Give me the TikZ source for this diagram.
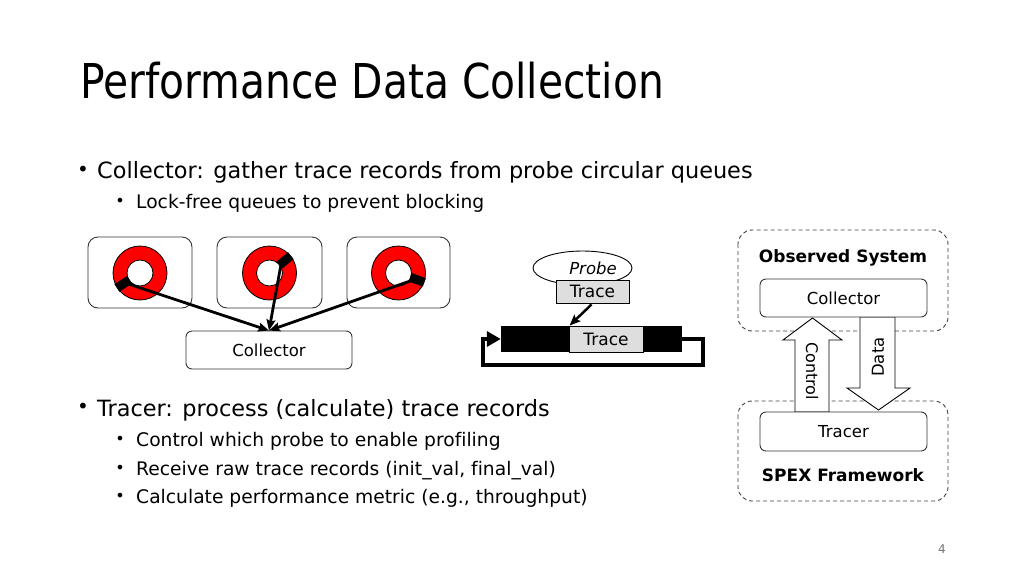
\documentclass[tikz,border=0pt]{standalone}
\usepackage{fontspec}
\setmainfont{DejaVu Sans}[Ligatures=NoCommon]
\newfontfamily\titlefont{DejaVu Sans}[FakeStretch=0.85]
\usetikzlibrary{arrows.meta,shapes.geometric,calc}
\newcommand\myfs[1]{\fontsize{#1}{#1}\selectfont}
\definecolor{tracegray}{RGB}{222,222,222}
\begin{document}
\begin{tikzpicture}[x=1pt,y=-1pt,
  txt/.style={inner sep=0pt, anchor=base west},
  ctr/.style={inner sep=0pt, anchor=center},
  rbox/.style={draw=black!80, line width=0.9pt, rounded corners=10pt, minimum height=71pt, inner sep=0pt},
  pbox/.style={draw=black!80, line width=0.9pt, rounded corners=6pt, inner sep=0pt, font=\myfs{16.5}},
  tbox/.style={draw=black, line width=0.9pt, fill=tracegray, inner sep=0pt, font=\myfs{17}},
  dbox/.style={draw=black!75, line width=0.9pt, dash pattern=on 4pt off 3pt, rounded corners=14pt},
  arr/.style={line width=2.8pt, -{Stealth[length=11pt,width=9pt,inset=2pt]}},
  blk/.style={draw=black, line width=0.9pt, fill=white, line join=miter},
  ring/.style={fill=red, draw=black, line width=0.8pt},
  hole/.style={fill=white, draw=black, line width=0.8pt},
  seg/.style={line width=9pt, black}
]
\useasboundingbox (0,0) rectangle (1024,576);

% title and bullets
\node[txt] (title) at (80,98) {\titlefont\myfs{48}Performance Data Collection};
\node[ctr] (d1) at (83,171) {\myfs{20}•};
\node[txt] (b1) at (97,178) {\myfs{22.4}Collector: gather trace records from probe circular queues};
\node[ctr] (d11) at (120,202) {\myfs{16}•};
\node[txt] (b11) at (136,208) {\myfs{18.7}Lock-free queues to prevent blocking};
\node[ctr] (d2) at (83,408) {\myfs{20}•};
\node[txt] (b2) at (97,416) {\myfs{22.4}Tracer: process (calculate) trace records};
\node[ctr] (d21) at (120,440) {\myfs{16}•};
\node[txt] (b21) at (136,446) {\myfs{18.7}Control which probe to enable profiling};
\node[ctr] (d22) at (120,469) {\myfs{16}•};
\node[txt] (b22) at (136,475) {\myfs{18.7}Receive raw trace records (init\_val, final\_val)};
\node[ctr] (d23) at (120,497) {\myfs{16}•};
\node[txt] (b23) at (136,503) {\myfs{18.7}Calculate performance metric (e.g., throughput)};
\node[ctr, text=black!55] (pg) at (942,549) {\myfs{12}4};

% queues
\node[rbox, minimum width=104pt] (q1) at (140,272.5) {};
\node[rbox, minimum width=105pt] (q2) at (269.5,272.5) {};
\node[rbox, minimum width=103pt] (q3) at (398.5,272.5) {};
\coordinate (c1) at (140,273);
\coordinate (c2) at (269.5,273);
\coordinate (c3) at (398.5,273);
\foreach \c/\a in {c1/147, c2/-39, c3/20}{
  \draw[ring] (\c) circle[radius=27];
  \draw[hole] (\c) circle[radius=13];
  \draw[seg] ($(\c)+(\a:12.5)$) -- ($(\c)+(\a:27.5)$);
}
\coordinate (s1) at ($(c1)+(147:18)$);
\coordinate (s2) at ($(c2)+(-39:15)$);
\coordinate (s3) at ($(c3)+(20:18)$);
\node[pbox, minimum width=166pt, minimum height=38pt] (coll) at (269,350) {Collector};
\draw[arr] (s1) -- (coll.north);
\draw[arr] (s2) -- (coll.north);
\draw[arr] (s3) -- (coll.north);

% probe / trace buffer
\node[ellipse, draw=black, line width=0.9pt, minimum width=99pt, minimum height=34pt, inner sep=0pt] (probe) at (582.5,268) {};
\node[ctr] (probetxt) at (593,268) {\myfs{16.5}\itshape Probe};
\node[tbox, minimum width=73pt, minimum height=23pt] (tr1) at (592.5,291.5) {Trace};
\node[fill=black, minimum width=181pt, minimum height=26pt, inner sep=0pt] (bar) at (591.5,339) {};
\node[tbox, minimum width=74pt, minimum height=26pt] (tr2) at (606,339) {Trace};
\draw[arr, line width=2.5pt] ($(tr1.south)+(-1,1)$) -- ($(tr2.north west)+(1,0)$);
\coordinate (lr) at (703,365);
\coordinate (ll) at (483,365);
\draw[line width=4.5pt, line join=miter, -{Triangle[length=14pt,width=15pt]}]
  (bar.east) -| (lr) -- (ll) |- (bar.west);

% SPEX framework
\draw[dbox] (738,230) rectangle (948,331);
\draw[dbox] (738,401) rectangle (948,501);
\node[ctr, font=\myfs{17}\bfseries] (obs) at (843,258) {Observed System};
\node[ctr, font=\myfs{17}\bfseries] (spex) at (843,475) {SPEX Framework};
\draw[blk] (795,412) -- (795,340) -- (783,340) -- (812.5,318) -- (842,340) -- (829,340) -- (829,412) -- cycle;
\draw[blk] (860,317) -- (860,388) -- (847,388) -- (878.5,410) -- (910,388) -- (895,388) -- (895,317) -- cycle;
\node[ctr, rotate=-90, font=\myfs{16}] (ctl) at (812,371) {Control};
\node[ctr, rotate=90, font=\myfs{16.5}] (dat) at (878,357) {Data};
\node[pbox, fill=white, minimum width=167pt, minimum height=38pt] (coll2) at (843.5,298) {Collector};
\node[pbox, fill=white, minimum width=167pt, minimum height=39pt] (tracer) at (843.5,431.5) {Tracer};
\end{tikzpicture}
\end{document}
